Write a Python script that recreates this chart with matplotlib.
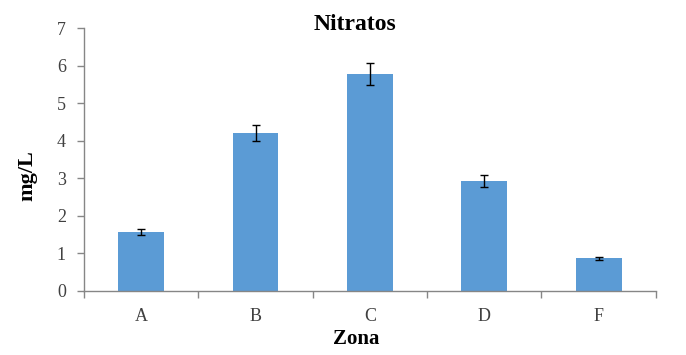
import numpy as np
import matplotlib.pyplot as plt

zonas = ['A', 'B', 'C', 'D', 'F']
nitratos = [1.58, 4.21, 5.78, 2.94, 0.87]
errores = [0.08, 0.21, 0.29, 0.16, 0.04]

plt.rcParams['font.family'] = ['Liberation Serif', 'DejaVu Serif']
gris = '#868686'

fig = plt.figure(figsize=(6.86, 3.55), dpi=100)
ax = fig.add_axes([0.1224, 0.1803, 0.8336, 0.7397])

x = np.arange(1, len(zonas) + 1)
ax.bar(x, nitratos, width=0.4, color='#5B9BD5', zorder=2)
ax.errorbar(x, nitratos, yerr=errores, fmt='none', ecolor='black',
            elinewidth=1, capsize=3, capthick=1, zorder=3)

ax.set_xlim(0.5, len(zonas) + 0.5)
ax.set_ylim(0, 7)
ax.set_yticks(range(8))
ax.set_xticks(x)
ax.set_xticklabels(zonas)
ax.set_xticks(np.arange(0.5, len(zonas) + 1, 1), minor=True)
ax.tick_params(axis='x', which='major', length=0, pad=12, labelsize=13, colors='#404040')
ax.tick_params(axis='x', which='minor', length=5, color=gris, width=1)
ax.tick_params(axis='y', length=5, color=gris, width=1, labelsize=13, labelcolor='#404040', pad=8)

for s in ['top', 'right']:
    ax.spines[s].set_visible(False)
for s in ['left', 'bottom']:
    ax.spines[s].set_color(gris)
    ax.spines[s].set_linewidth(1)

fig.text(355 / 686, 1 - 24 / 355, 'Nitratos', ha='center', va='center',
         fontsize=17, fontweight='bold')
fig.text(27 / 686, 1 - 176 / 355, 'mg/L', ha='center', va='center',
         rotation=90, fontsize=16, fontweight='bold')
fig.text(356 / 686, 1 - 339 / 355, 'Zona', ha='center', va='center',
         fontsize=15, fontweight='bold')

fig.savefig('out.png', dpi=100)
